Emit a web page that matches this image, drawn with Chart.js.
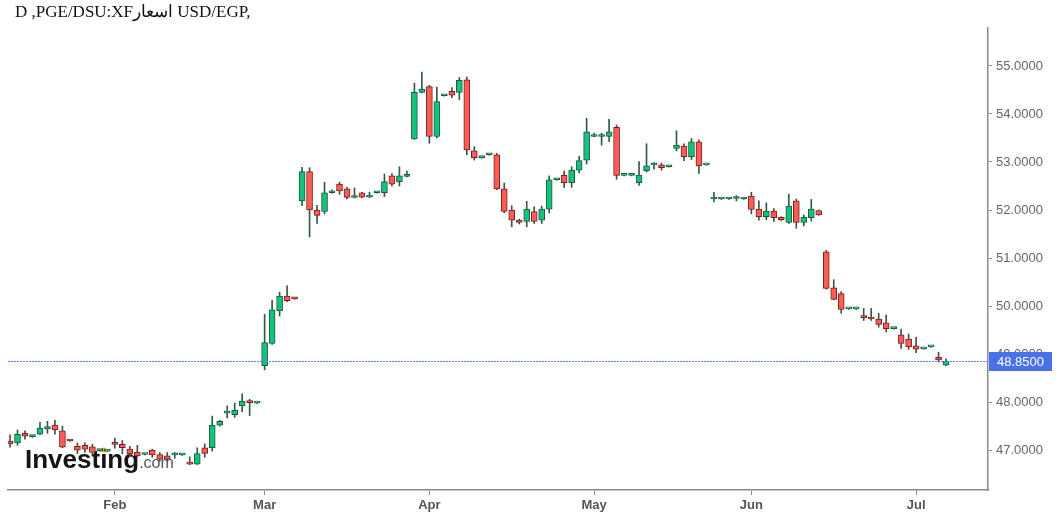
<!DOCTYPE html>
<html>
<head>
<meta charset="utf-8">
<script src="https://cdn.jsdelivr.net/npm/chart.js@4.4.1/dist/chart.umd.min.js"></script>
<style>
  body { margin: 0; background: #fff; }
  #wrap { position: relative; width: 1059px; height: 519px; }
</style>
</head>
<body>
<div id="wrap"><canvas id="candle-chart"></canvas></div>
<script>
// daily candles, one per trading day (index = position on the axis)
var opens = [47.19, 47.15, 47.35, 47.28, 47.33, 47.44, 47.52, 47.40, 47.20, 47.08,
  47.10, 47.07, 46.99, 46.98, 47.16, 47.12, 47.02, 46.96, 46.91, 47.00,
  46.91, 46.88, 46.90, 46.90, 46.73, 46.71, 47.05, 47.05, 47.52, 47.77,
  47.74, 47.92, 48.01, 47.98, 48.76, 49.22, 49.90, 50.21, 50.17, 52.19,
  52.80, 52.00, 51.97, 52.36, 52.54, 52.44, 52.26, 52.36, 52.27, 52.36,
  52.36, 52.71, 52.59, 52.70, 53.48, 54.45, 54.57, 53.53, 54.38, 54.47,
  54.45, 54.71, 53.23, 53.09, 53.15, 53.15, 52.44, 52.00, 51.79, 51.76,
  51.97, 51.79, 52.02, 52.63, 52.72, 52.57, 52.83, 53.04, 53.53, 53.53,
  53.53, 53.72, 52.72, 52.72, 52.57, 52.82, 52.94, 52.94, 52.90, 53.28,
  53.33, 53.11, 53.42, 52.94, 52.23, 52.23, 52.23, 52.24, 52.23, 52.29,
  52.02, 51.86, 51.98, 51.85, 51.74, 52.19, 51.74, 51.84, 51.99, 51.13,
  50.38, 50.26, 49.94, 49.94, 49.78, 49.76, 49.73, 49.65, 49.53, 49.40,
  49.31, 49.17, 49.11, 49.15, 48.93, 48.77];
var highs = [47.32, 47.42, 47.40, 47.30, 47.58, 47.60, 47.62, 47.50, 47.21, 47.15,
  47.15, 47.12, 47.00, 46.99, 47.25, 47.20, 47.08, 47.10, 46.92, 47.02,
  46.95, 46.95, 46.95, 46.91, 46.86, 47.05, 47.13, 47.71, 47.62, 47.92,
  47.98, 48.17, 48.06, 47.99, 49.83, 50.12, 50.29, 50.42, 50.18, 52.89,
  52.88, 52.10, 52.58, 52.42, 52.58, 52.47, 52.46, 52.37, 52.37, 52.37,
  52.75, 52.76, 52.90, 52.81, 54.64, 54.87, 54.60, 54.56, 54.39, 54.55,
  54.76, 54.77, 53.32, 53.10, 53.16, 53.18, 52.56, 52.09, 51.81, 52.18,
  52.07, 52.08, 52.71, 52.64, 52.81, 52.90, 53.12, 53.91, 53.60, 53.60,
  53.89, 53.77, 52.73, 52.73, 53.01, 53.38, 52.99, 52.98, 52.91, 53.65,
  53.38, 53.49, 53.46, 52.95, 52.37, 52.24, 52.24, 52.30, 52.24, 52.37,
  52.19, 52.15, 52.03, 51.86, 52.33, 52.23, 51.90, 52.22, 52.00, 51.16,
  50.55, 50.30, 49.95, 49.95, 49.95, 49.95, 49.85, 49.81, 49.54, 49.52,
  49.42, 49.35, 49.12, 49.16, 49.04, 48.90];
var lows = [47.06, 47.10, 47.23, 47.27, 47.32, 47.35, 47.33, 47.05, 47.18, 46.93,
  46.95, 46.90, 46.98, 46.97, 47.04, 46.92, 46.87, 46.86, 46.90, 46.85,
  46.77, 46.78, 46.83, 46.89, 46.70, 46.70, 46.85, 46.98, 47.50, 47.67,
  47.68, 47.80, 47.72, 47.97, 48.67, 49.20, 49.79, 50.09, 50.14, 52.09,
  51.44, 51.72, 51.92, 52.35, 52.33, 52.23, 52.25, 52.25, 52.26, 52.35,
  52.28, 52.50, 52.50, 52.69, 53.47, 54.44, 53.39, 53.50, 54.37, 54.34,
  54.30, 53.15, 53.04, 53.08, 53.14, 52.42, 51.94, 51.65, 51.71, 51.65,
  51.72, 51.72, 51.94, 52.62, 52.47, 52.47, 52.77, 52.96, 53.52, 53.35,
  53.43, 52.64, 52.71, 52.71, 52.51, 52.79, 52.85, 52.83, 52.89, 53.23,
  53.03, 53.05, 52.76, 52.93, 52.17, 52.22, 52.22, 52.19, 52.22, 51.92,
  51.79, 51.80, 51.76, 51.78, 51.72, 51.62, 51.67, 51.77, 51.89, 50.35,
  50.13, 49.85, 49.93, 49.93, 49.70, 49.70, 49.56, 49.46, 49.52, 49.12,
  49.10, 49.03, 49.10, 49.14, 48.83, 48.76];
var closes = [47.13, 47.33, 47.29, 47.28, 47.46, 47.49, 47.42, 47.06, 47.19, 47.00,
  47.02, 46.95, 46.99, 46.98, 47.12, 47.05, 46.92, 46.88, 46.91, 46.90,
  46.81, 46.81, 46.90, 46.90, 46.71, 46.93, 46.93, 47.52, 47.60, 47.78,
  47.83, 48.02, 47.99, 47.98, 49.24, 49.92, 50.21, 50.11, 50.15, 52.80,
  52.00, 51.89, 52.36, 52.36, 52.40, 52.26, 52.26, 52.27, 52.27, 52.36,
  52.59, 52.54, 52.71, 52.70, 54.45, 54.52, 53.53, 54.26, 54.38, 54.39,
  54.70, 53.25, 53.09, 53.09, 53.15, 52.44, 51.97, 51.79, 51.74, 52.02,
  51.76, 52.02, 52.63, 52.63, 52.57, 52.83, 53.03, 53.63, 53.53, 53.53,
  53.63, 52.72, 52.72, 52.72, 52.73, 52.92, 52.94, 52.88, 52.90, 53.35,
  53.11, 53.42, 52.92, 52.94, 52.23, 52.23, 52.23, 52.24, 52.23, 52.01,
  51.86, 51.98, 51.84, 51.80, 52.08, 51.74, 51.85, 52.02, 51.90, 50.37,
  50.14, 49.93, 49.94, 49.94, 49.76, 49.73, 49.62, 49.53, 49.53, 49.22,
  49.15, 49.10, 49.11, 49.15, 48.88, 48.85];

var lastPrice = 48.85;
var monthLabels = ["Feb", "Mar", "Apr", "May", "Jun", "Jul"];
var monthIdx = [14, 34, 56, 78, 99, 121];
var yTicks = [47, 48, 49, 50, 51, 52, 53, 54, 55];
var titleText = "D ,PGE/DSU:XF" + "اسعار" + " USD/EGP,";

var upFill = "#14c27d";
var upLine = "#1d5a3c";
var downFill = "#fa5d55";
var downLine = "#7b1d1d";
var wickColor = "#2f5c46";
var axisFont = "Arial, 'Liberation Sans', sans-serif";

function isUp(i) {
  return closes[i] >= opens[i];
}

var bodyData = opens.map(function (o, i) {
  return { x: i, y: [o, closes[i]] };
});
var wickData = opens.map(function (o, i) {
  return { x: i, y: [lows[i], highs[i]] };
});

// title, watermark and last price marker
var decorations = {
  id: "decorations",
  beforeDatasetsDraw: function (chart) {
    var ctx = chart.ctx;
    ctx.save();
    ctx.textBaseline = "alphabetic";
    ctx.fillStyle = "#151515";
    ctx.font = "bold 26px " + axisFont;
    ctx.fillText("Investing", 25, 468);
    var w = ctx.measureText("Investing").width;
    var wDot = ctx.measureText("Invest").width + ctx.measureText("i").width / 2;
    ctx.fillStyle = "#555";
    ctx.font = "16px " + axisFont;
    ctx.fillText(".com", 25 + w, 468);
    ctx.fillStyle = "#f5a623";
    ctx.beginPath();
    ctx.arc(25 + wDot, 450, 2.6, 0, Math.PI * 2);
    ctx.fill();
    ctx.restore();
  },
  afterDraw: function (chart) {
    var ctx = chart.ctx;
    var area = chart.chartArea;
    var y = Math.round(chart.scales.y.getPixelForValue(lastPrice)) + 0.5;
    ctx.save();
    ctx.strokeStyle = "#5a82ff";
    ctx.lineWidth = 1;
    ctx.setLineDash([2, 1]);
    ctx.beginPath();
    ctx.moveTo(area.left, y);
    ctx.lineTo(area.right, y);
    ctx.stroke();
    ctx.setLineDash([]);
    ctx.fillStyle = "#4a72e8";
    ctx.fillRect(area.right + 1, y - 9.5, 63, 19);
    ctx.fillStyle = "#fff";
    ctx.font = "13px " + axisFont;
    ctx.textBaseline = "middle";
    ctx.fillText(lastPrice.toFixed(4), area.right + 9, y + 0.5);

    ctx.fillStyle = "#111";
    ctx.font = "17px 'Liberation Serif', 'Times New Roman', serif";
    ctx.textBaseline = "alphabetic";
    ctx.direction = "ltr";
    ctx.fillText(titleText, 15, 17);
    ctx.restore();
  },
};

var ctx = document.getElementById("candle-chart").getContext("2d");
new Chart(ctx, {
  type: "bar",
  data: {
    datasets: [
      {
        label: "body",
        data: bodyData,
        order: 1,
        grouped: false,
        barThickness: 6,
        minBarLength: 2,
        borderWidth: 1,
        borderSkipped: false,
        backgroundColor: function (c) {
          return isUp(c.dataIndex) ? upFill : downFill;
        },
        borderColor: function (c) {
          return isUp(c.dataIndex) ? upLine : downLine;
        },
      },
      {
        label: "wick",
        data: wickData,
        order: 2,
        grouped: false,
        barThickness: 1,
        borderWidth: 0,
        backgroundColor: wickColor,
      },
    ],
  },
  options: {
    responsive: true,
    maintainAspectRatio: false,
    animation: false,
    layout: {
      padding: { left: 8, top: 28, right: 0, bottom: 0 },
    },
    plugins: {
      legend: { display: false },
      tooltip: { enabled: false },
    },
    scales: {
      x: {
        type: "linear",
        min: -0.27,
        max: 130.6,
        offset: false,
        grid: {
          offset: false,
          drawOnChartArea: false,
          drawTicks: true,
          tickLength: 5,
          color: "#8c8c8c",
        },
        border: { display: true, color: "#8c8c8c", width: 1.5 },
        ticks: {
          padding: 3,
          color: "#555",
          maxRotation: 0,
          font: { size: 13, weight: "bold", family: axisFont },
          callback: function (value) {
            var k = monthIdx.indexOf(value);
            return k >= 0 ? monthLabels[k] : "";
          },
        },
        afterBuildTicks: function (scale) {
          scale.ticks = monthIdx.map(function (v) {
            return { value: v };
          });
        },
        afterFit: function (scale) {
          scale.height = 29;
        },
      },
      y: {
        type: "linear",
        position: "right",
        min: 46.17,
        max: 55.79,
        grid: {
          drawOnChartArea: false,
          drawTicks: true,
          tickLength: 4,
          color: "#8c8c8c",
        },
        border: { display: true, color: "#8c8c8c", width: 1.5 },
        ticks: {
          padding: 4,
          color: "#666",
          font: { size: 13, family: axisFont },
          callback: function (value) {
            return value.toFixed(4);
          },
        },
        afterBuildTicks: function (scale) {
          scale.ticks = yTicks.map(function (v) {
            return { value: v };
          });
        },
        afterFit: function (scale) {
          scale.width = 71;
        },
      },
    },
  },
  plugins: [decorations],
});
</script>
</body>
</html>
